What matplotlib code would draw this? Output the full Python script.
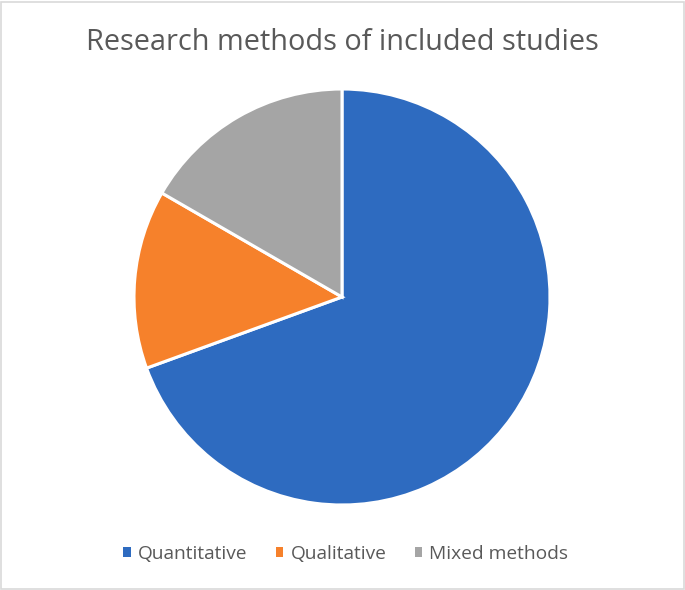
import matplotlib
matplotlib.use("Agg")
import matplotlib.pyplot as plt
from matplotlib.patches import Rectangle, Patch

categories = ["Quantitative", "Qualitative", "Mixed methods"]
values = [25, 5, 6]
colors = ["#2E6BC0", "#F6812B", "#A5A5A5"]
title = "Research methods of included studies"

plt.rcParams['font.family'] = ['Open Sans', 'DejaVu Sans']

fig = plt.figure(figsize=(6.85, 5.9), dpi=100)
# chart frame
fig.patches.append(Rectangle((0.002, 0.002), 0.996, 0.995, transform=fig.transFigure,
                             fill=False, edgecolor="#D9D9D9", linewidth=1.2))

W, H = 685, 590
cx, cy, r = 342, 297, 208
ax = fig.add_axes([(cx - r) / W, 1 - (cy + r) / H, 2 * r / W, 2 * r / H])
wedges, _ = ax.pie(values, colors=colors, startangle=90, counterclock=False,
                   wedgeprops=dict(edgecolor="white", linewidth=2.2),
                   radius=1.0)
ax.set_xlim(-1.0, 1.0)
ax.set_ylim(-1.0, 1.0)
ax.set_aspect('equal')
ax.axis('off')

fig.text(0.5, 1 - 43 / H, title, ha='center', va='center', fontsize=20.8, color="#595959")

handles = [Patch(facecolor=c, edgecolor='none') for c in colors]
leg = fig.legend(handles, categories, loc='center', bbox_to_anchor=(0.505, 1 - 554 / H),
                 ncol=3, frameon=False, fontsize=13.8, labelcolor="#595959",
                 handlelength=0.37, handleheight=0.37, handletextpad=0.4, columnspacing=1.47)

fig.savefig("out.png", dpi=100)
